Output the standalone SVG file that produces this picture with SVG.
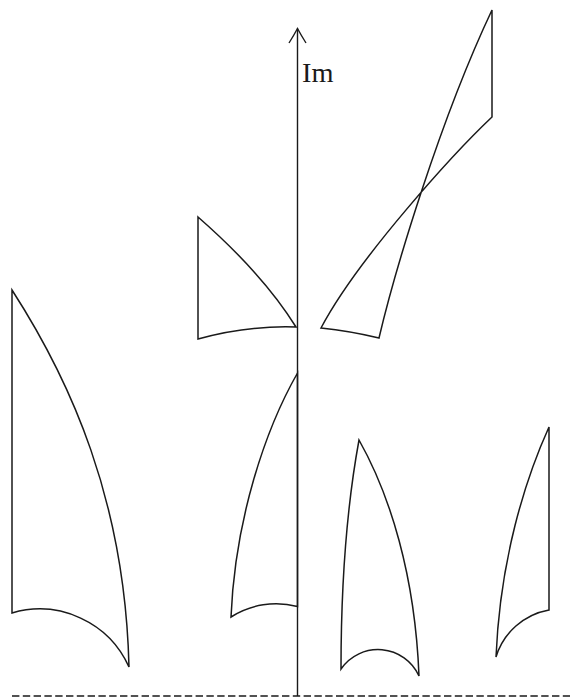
<svg xmlns="http://www.w3.org/2000/svg" width="570" height="700" viewBox="0 0 570 700">
<style>
.s{fill:none;stroke:#1a1a1a;stroke-width:1.5;stroke-linejoin:miter}
.ax{fill:none;stroke:#1a1a1a;stroke-width:1.4}
.lbl{font-family:"Liberation Serif","DejaVu Serif",serif;font-size:27px;fill:#1a1a1a}
</style>
<rect width="570" height="700" fill="#fff"/>
<g id="axes">
<line class="ax" x1="12" y1="696" x2="570" y2="696" stroke-dasharray="7.4 3.4"/>
<line class="ax" x1="297.5" y1="28.5" x2="297.5" y2="696"/>
<path class="ax" d="M289,43 Q294,35 297.5,28.5 Q301,35 306,43"/>
<text class="lbl" x="302" y="82" textLength="31.5" lengthAdjust="spacingAndGlyphs">Im</text>
</g>
<g id="shapeA">
<path class="s" d="M198,217 L198,339 C230,330 265,326 296,327 C270,285 230,245 198,217 Z"/>
</g>
<g id="shapeB">
<path class="s" d="M492,10 L492,117 C455,152 358,258 321,328 Q350,331 379,338 C395,270 440,120 492,10 Z"/>
</g>
<g id="shapeC">
<path class="s" d="M12,290 L12,613 A98,98 0 0 1 129,667 C125,500 70,380 12,290 Z"/>
</g>
<g id="shapeD">
<path class="s" d="M297.5,373 L297.5,606.5 A84,84 0 0 0 231,617 C235,520 265,430 297.5,373 Z"/>
</g>
<g id="shapeE">
<path class="s" d="M359,440 C348,500 341,580 341,669 A45,45 0 0 1 419,676 C415,575 390,495 359,440 Z"/>
</g>
<g id="shapeF">
<path class="s" d="M549,427 L549,610 A68,68 0 0 0 496,657 C500,560 525,480 549,427 Z"/>
</g>
</svg>
